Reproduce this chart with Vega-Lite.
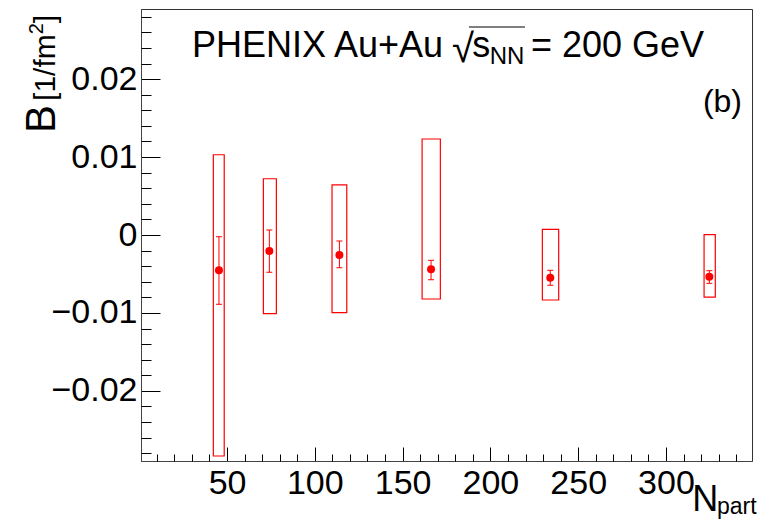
{
  "$schema": "https://vega.github.io/schema/vega-lite/v6.json",
  "width": 611,
  "height": 452,
  "autosize": {"type": "none"},
  "padding": {"left": 141, "top": 9, "right": 22, "bottom": 60},
  "background": "white",
  "config": {
    "view": {"stroke": "#333333", "strokeWidth": 1},
    "font": "Liberation Sans",
    "axis": {"grid": false, "labelFont": "Liberation Sans", "labelColor": "black", "tickColor": "black", "domainColor": "#444444", "labelOverlap": false, "labelFlush": false, "title": null}
  },
  "datasets": {
    "pts": [
      {"npart": 45.4, "B": -0.00453, "stat_lo": -0.00889, "stat_hi": -0.00022, "sys_lo": -0.02836, "sys_hi": 0.0103, "np_lo": 42.2, "np_hi": 48.4},
      {"npart": 74.1, "B": -0.00205, "stat_lo": -0.00479, "stat_hi": 0.00064, "sys_lo": -0.0101, "sys_hi": 0.00722, "np_lo": 70.7, "np_hi": 78.1},
      {"npart": 114.0, "B": -0.00257, "stat_lo": -0.0042, "stat_hi": -0.00077, "sys_lo": -0.00997, "sys_hi": 0.00642, "np_lo": 109.8, "np_hi": 118.2},
      {"npart": 166.2, "B": -0.0044, "stat_lo": -0.00574, "stat_hi": -0.00325, "sys_lo": -0.00821, "sys_hi": 0.01232, "np_lo": 161.1, "np_hi": 171.5},
      {"npart": 234.1, "B": -0.00548, "stat_lo": -0.00645, "stat_hi": -0.00453, "sys_lo": -0.00834, "sys_hi": 0.00073, "np_lo": 229.6, "np_hi": 238.9},
      {"npart": 324.7, "B": -0.00535, "stat_lo": -0.0062, "stat_hi": -0.00458, "sys_lo": -0.00796, "sys_hi": 0.00004, "np_lo": 321.7, "np_hi": 328.1}
    ]
  },
  "resolve": {"axis": {"x": "independent", "y": "independent"}},
  "layer": [
    {
      "data": {"name": "pts"},
      "mark": {"type": "rect", "fill": "transparent", "stroke": "#ff0000", "strokeWidth": 1.2},
      "encoding": {
        "x": {"field": "np_lo", "type": "quantitative", "scale": {"domain": [1, 349], "nice": false, "zero": false},
              "axis": {"orient": "bottom", "values": [50, 100, 150, 200, 250, 300], "tickSize": -14, "labelPadding": 19, "labelFontSize": 34, "title": null}},
        "x2": {"field": "np_hi"},
        "y": {"field": "sys_lo", "type": "quantitative", "scale": {"domain": [-0.029, 0.029], "nice": false, "zero": false},
              "axis": {"orient": "left", "values": [-0.02, -0.01, 0, 0.01, 0.02], "format": ".2~f", "tickSize": -19, "labelPadding": 23, "labelFontSize": 34, "title": null}},
        "y2": {"field": "sys_hi"}
      }
    },
    {
      "data": {"name": "pts"},
      "mark": {"type": "rule", "color": "#ff0000", "strokeWidth": 1},
      "encoding": {
        "x": {"field": "npart", "type": "quantitative", "scale": {"domain": [1, 349], "nice": false, "zero": false}, "axis": null},
        "y": {"field": "stat_lo", "type": "quantitative", "scale": {"domain": [-0.029, 0.029], "nice": false, "zero": false}, "axis": null},
        "y2": {"field": "stat_hi"}
      }
    },
    {
      "data": {"name": "pts"},
      "mark": {"type": "tick", "orient": "horizontal", "size": 6, "thickness": 1, "color": "#ff0000", "opacity": 1},
      "encoding": {
        "x": {"field": "npart", "type": "quantitative", "scale": {"domain": [1, 349], "nice": false, "zero": false}, "axis": null},
        "y": {"field": "stat_lo", "type": "quantitative", "scale": {"domain": [-0.029, 0.029], "nice": false, "zero": false}, "axis": null}
      }
    },
    {
      "data": {"name": "pts"},
      "mark": {"type": "tick", "orient": "horizontal", "size": 6, "thickness": 1, "color": "#ff0000", "opacity": 1},
      "encoding": {
        "x": {"field": "npart", "type": "quantitative", "scale": {"domain": [1, 349], "nice": false, "zero": false}, "axis": null},
        "y": {"field": "stat_hi", "type": "quantitative", "scale": {"domain": [-0.029, 0.029], "nice": false, "zero": false}, "axis": null}
      }
    },
    {
      "data": {"name": "pts"},
      "mark": {"type": "circle", "color": "#ff0000", "size": 64, "opacity": 1},
      "encoding": {
        "x": {"field": "npart", "type": "quantitative", "scale": {"domain": [1, 349], "nice": false, "zero": false},
              "axis": {"orient": "bottom", "values": [10, 20, 30, 40, 60, 70, 80, 90, 110, 120, 130, 140, 160, 170, 180, 190, 210, 220, 230, 240, 260, 270, 280, 290, 310, 320, 330, 340], "tickSize": -7, "labels": false, "domain": false, "title": null}},
        "y": {"field": "B", "type": "quantitative", "scale": {"domain": [-0.029, 0.029], "nice": false, "zero": false},
              "axis": {"orient": "left", "values": [-0.028, -0.026, -0.024, -0.022, -0.018, -0.016, -0.014, -0.012, -0.008, -0.006, -0.004, -0.002, 0.002, 0.004, 0.006, 0.008, 0.012, 0.014, 0.016, 0.018, 0.022, 0.024, 0.026, 0.028], "tickSize": -10, "labels": false, "domain": false, "title": null}}
      }
    },
    {
      "data": {"values": [{}]},
      "mark": {"type": "text", "text": "PHENIX Au+Au", "align": "left", "baseline": "alphabetic", "fontSize": 36, "font": "Liberation Sans", "color": "black"},
      "encoding": {
        "x": {"datum": 30.05, "type": "quantitative", "scale": {"domain": [1, 349], "nice": false, "zero": false}, "axis": null},
        "y": {"datum": 0.02284, "type": "quantitative", "scale": {"domain": [-0.029, 0.029], "nice": false, "zero": false}, "axis": null}
      }
    },
    {
      "data": {"values": [{}]},
      "mark": {"type": "text", "text": "√", "align": "left", "baseline": "alphabetic", "fontSize": 40, "font": "Liberation Sans", "color": "black"},
      "encoding": {
        "x": {"datum": 178.1, "type": "quantitative", "scale": {"domain": [1, 349], "nice": false, "zero": false}, "axis": null},
        "y": {"datum": 0.0222, "type": "quantitative", "scale": {"domain": [-0.029, 0.029], "nice": false, "zero": false}, "axis": null}
      }
    },
    {
      "data": {"values": [{}]},
      "mark": {"type": "rule", "color": "black", "strokeWidth": 1},
      "encoding": {
        "x": {"datum": 187.8, "type": "quantitative", "scale": {"domain": [1, 349], "nice": false, "zero": false}, "axis": null},
        "x2": {"datum": 219.7},
        "y": {"datum": 0.02669, "type": "quantitative", "scale": {"domain": [-0.029, 0.029], "nice": false, "zero": false}, "axis": null}
      }
    },
    {
      "data": {"values": [{}]},
      "mark": {"type": "text", "text": "s", "align": "left", "baseline": "alphabetic", "fontSize": 36, "font": "Liberation Sans", "color": "black"},
      "encoding": {
        "x": {"datum": 189.6, "type": "quantitative", "scale": {"domain": [1, 349], "nice": false, "zero": false}, "axis": null},
        "y": {"datum": 0.02284, "type": "quantitative", "scale": {"domain": [-0.029, 0.029], "nice": false, "zero": false}, "axis": null}
      }
    },
    {
      "data": {"values": [{}]},
      "mark": {"type": "text", "text": "NN", "align": "left", "baseline": "alphabetic", "fontSize": 24, "font": "Liberation Sans", "color": "black"},
      "encoding": {
        "x": {"datum": 199.6, "type": "quantitative", "scale": {"domain": [1, 349], "nice": false, "zero": false}, "axis": null},
        "y": {"datum": 0.02194, "type": "quantitative", "scale": {"domain": [-0.029, 0.029], "nice": false, "zero": false}, "axis": null}
      }
    },
    {
      "data": {"values": [{}]},
      "mark": {"type": "text", "text": "= 200 GeV", "align": "left", "baseline": "alphabetic", "fontSize": 36, "font": "Liberation Sans", "color": "black"},
      "encoding": {
        "x": {"datum": 223.1, "type": "quantitative", "scale": {"domain": [1, 349], "nice": false, "zero": false}, "axis": null},
        "y": {"datum": 0.02284, "type": "quantitative", "scale": {"domain": [-0.029, 0.029], "nice": false, "zero": false}, "axis": null}
      }
    },
    {
      "data": {"values": [{}]},
      "mark": {"type": "text", "text": "(b)", "align": "right", "baseline": "alphabetic", "fontSize": 32, "font": "Liberation Sans", "color": "black"},
      "encoding": {
        "x": {"datum": 343.3, "type": "quantitative", "scale": {"domain": [1, 349], "nice": false, "zero": false}, "axis": null},
        "y": {"datum": 0.01578, "type": "quantitative", "scale": {"domain": [-0.029, 0.029], "nice": false, "zero": false}, "axis": null}
      }
    },
    {
      "data": {"values": [{}]},
      "mark": {"type": "text", "text": "N", "align": "left", "baseline": "alphabetic", "fontSize": 36, "font": "Liberation Sans", "color": "black"},
      "encoding": {
        "x": {"datum": 315.0, "type": "quantitative", "scale": {"domain": [1, 349], "nice": false, "zero": false}, "axis": null},
        "y": {"datum": -0.03542, "type": "quantitative", "scale": {"domain": [-0.029, 0.029], "nice": false, "zero": false}, "axis": null}
      }
    },
    {
      "data": {"values": [{}]},
      "mark": {"type": "text", "text": "part", "align": "left", "baseline": "alphabetic", "fontSize": 23, "font": "Liberation Sans", "color": "black"},
      "encoding": {
        "x": {"datum": 329.0, "type": "quantitative", "scale": {"domain": [1, 349], "nice": false, "zero": false}, "axis": null},
        "y": {"datum": -0.0358, "type": "quantitative", "scale": {"domain": [-0.029, 0.029], "nice": false, "zero": false}, "axis": null}
      }
    },
    {
      "data": {"values": [{}]},
      "mark": {"type": "text", "text": "B", "angle": 270, "align": "left", "baseline": "alphabetic", "fontSize": 42, "font": "Liberation Sans", "color": "black"},
      "encoding": {
        "x": {"datum": -47.98, "type": "quantitative", "scale": {"domain": [1, 349], "nice": false, "zero": false}, "axis": null},
        "y": {"datum": 0.01309, "type": "quantitative", "scale": {"domain": [-0.029, 0.029], "nice": false, "zero": false}, "axis": null}
      }
    },
    {
      "data": {"values": [{}]},
      "mark": {"type": "text", "text": "[1/fm", "angle": 270, "align": "left", "baseline": "alphabetic", "fontSize": 30, "font": "Liberation Sans", "color": "black"},
      "encoding": {
        "x": {"datum": -47.98, "type": "quantitative", "scale": {"domain": [1, 349], "nice": false, "zero": false}, "axis": null},
        "y": {"datum": 0.0172, "type": "quantitative", "scale": {"domain": [-0.029, 0.029], "nice": false, "zero": false}, "axis": null}
      }
    },
    {
      "data": {"values": [{}]},
      "mark": {"type": "text", "text": "2", "angle": 270, "align": "left", "baseline": "alphabetic", "fontSize": 20, "font": "Liberation Sans", "color": "black"},
      "encoding": {
        "x": {"datum": -54.8, "type": "quantitative", "scale": {"domain": [1, 349], "nice": false, "zero": false}, "axis": null},
        "y": {"datum": 0.02575, "type": "quantitative", "scale": {"domain": [-0.029, 0.029], "nice": false, "zero": false}, "axis": null}
      }
    },
    {
      "data": {"values": [{}]},
      "mark": {"type": "text", "text": "]", "angle": 270, "align": "left", "baseline": "alphabetic", "fontSize": 30, "font": "Liberation Sans", "color": "black"},
      "encoding": {
        "x": {"datum": -47.98, "type": "quantitative", "scale": {"domain": [1, 349], "nice": false, "zero": false}, "axis": null},
        "y": {"datum": 0.02718, "type": "quantitative", "scale": {"domain": [-0.029, 0.029], "nice": false, "zero": false}, "axis": null}
      }
    }
  ]
}
